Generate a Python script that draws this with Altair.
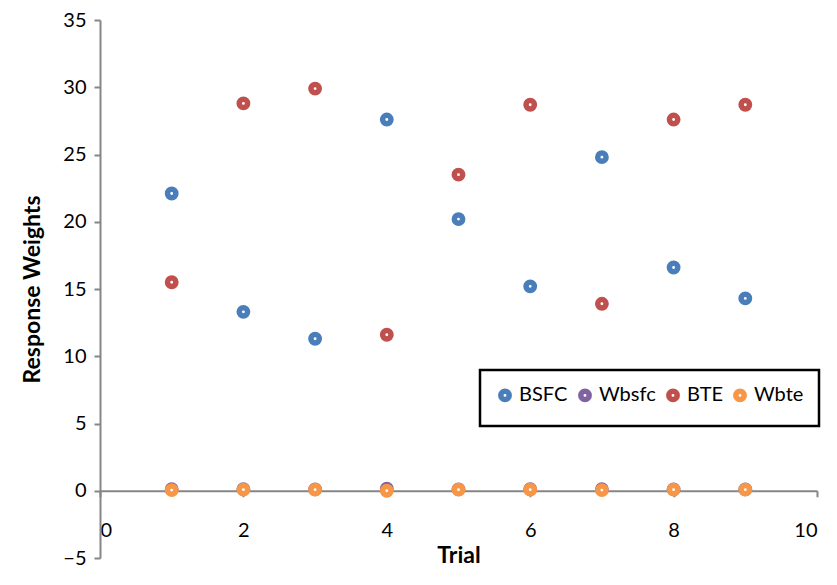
import altair as alt
import pandas as pd

trials = [1, 2, 3, 4, 5, 6, 7, 8, 9]
bsfc = [22.1, 13.3, 11.3, 27.6, 20.2, 15.2, 24.8, 16.6, 14.3]
wbsfc = [0.12, 0.12, 0.1, 0.15, 0.1, 0.12, 0.12, 0.1, 0.1]
bte = [15.5, 28.8, 29.9, 11.6, 23.5, 28.7, 13.9, 27.6, 28.7]
wbte = [0.05, 0.08, 0.08, 0.0, 0.08, 0.08, 0.05, 0.08, 0.08]

series_names = ["BSFC", "Wbsfc", "BTE", "Wbte"]
series_vals = [bsfc, wbsfc, bte, wbte]
colors = ["#4A7EBB", "#8064A2", "#C0504D", "#F79646"]

rows = []
for name, vals in zip(series_names, series_vals):
    for t, v in zip(trials, vals):
        rows.append({"Trial": t, "Value": v, "Series": name, "order": series_names.index(name)})
df = pd.DataFrame(rows)

FONT = "Lato"
W, H = 717, 538

chart = alt.Chart(df).mark_point(
    shape="circle", filled=False, size=70, strokeWidth=5.5, opacity=1, fill="white", fillOpacity=1
).encode(
    x=alt.X("Trial:Q",
            scale=alt.Scale(domain=[0, 10], nice=False, zero=False),
            axis=alt.Axis(values=[0, 2, 4, 6, 8, 10], grid=False, offset=-H * 5 / 40,
                          tickSize=6, labelPadding=24, labelFontSize=20,
                          labelFont=FONT, labelColor="black",
                          title="Trial", titleFont=FONT, titleFontSize=23,
                          titleFontWeight="bold", titleColor="black", titlePadding=4,
                          domainColor="#868686", tickColor="#868686",
                          domainWidth=2, tickWidth=2)),
    y=alt.Y("Value:Q",
            scale=alt.Scale(domain=[-5, 35], nice=False, zero=False),
            axis=alt.Axis(values=[-5, 0, 5, 10, 15, 20, 25, 30, 35], grid=False,
                          tickSize=6, labelPadding=8, labelFontSize=20,
                          labelFont=FONT, labelColor="black",
                          title="Response Weights", titleFont=FONT, titleFontSize=23,
                          titleFontWeight="bold", titleColor="black", titlePadding=18,
                          domainColor="#868686", tickColor="#868686",
                          domainWidth=2, tickWidth=2)),
    color=alt.Color("Series:N",
                    scale=alt.Scale(domain=series_names, range=colors),
                    legend=alt.Legend(orient="none", legendX=380, legendY=350,
                                      direction="horizontal", columns=4, title=None,
                                      symbolType="circle", symbolSize=70,
                                      symbolStrokeWidth=5.5, symbolFillColor="white",
                                      labelFont=FONT, labelFontSize=20, labelColor="black",
                                      labelOffset=4, columnPadding=1, padding=15,
                                      strokeColor="black", fillColor="white")),
    order=alt.Order("order:Q"),
).properties(
    width=W, height=H,
    autosize=alt.AutoSizeParams(type="none"),
    padding={"left": 92, "top": 12, "right": 12, "bottom": 14},
).configure_view(stroke=None).configure_legend(strokeWidth=2.5)

chart.save("out.html", embed_options={"renderer": "svg", "actions": False})
